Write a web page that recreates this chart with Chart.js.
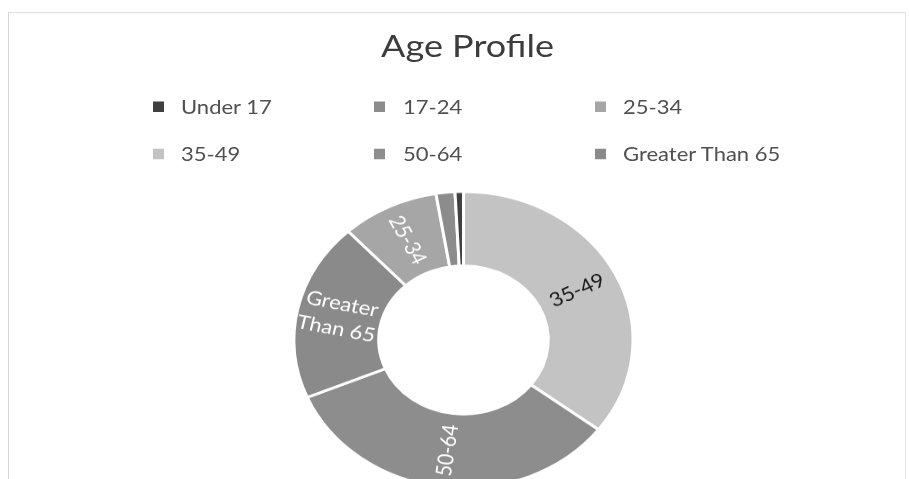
<!DOCTYPE html>
<html>
<head>
<meta charset="utf-8">
<script src="https://cdn.jsdelivr.net/npm/chart.js@4/dist/chart.umd.min.js"></script>
<style>
  html, body { margin: 0; padding: 0; background: #fff; }
  #frame { position: relative; width: 909px; height: 479px; overflow: hidden; background: #fff; }
  #squash { position: absolute; left: 0; top: 0; width: 909px; height: 560px;
            transform: scaleY(0.875); transform-origin: 0 0; }
  #border { position: absolute; left: 8px; top: 14px; width: 896px; height: 600px;
            border-top: 1px solid #d6d6d6; border-left: 1px solid #d6d6d6; border-right: 1px solid #e6e6e6; }
  #chart { position: absolute; left: 0; top: 0; }
  #title { position: absolute; left: 0; width: 935px; top: 33px; height: 36px; line-height: 36px;
           text-align: center; font-family: Lato, sans-serif; font-size: 36px; color: #3c3c3c; white-space: nowrap; }
  .lg-box { position: absolute; width: 11px; height: 12px; }
  .lg-text { position: absolute; font-family: Lato, sans-serif; font-size: 22px; color: #505050; white-space: nowrap;
             line-height: 26px; height: 26px; }
</style>
</head>
<body>
<div id="frame">
  <div id="squash">
    <div id="border"></div>
    <canvas id="chart" width="909" height="560"></canvas>
    <div id="title">Age Profile</div>
    <div id="legend"></div>
  </div>
</div>
<script>
// ---- data (slices listed clockwise from 12 o'clock, as drawn) ----
const categories = ['35-49', '50-64', 'Greater Than 65', '25-34', '17-24', 'Under 17'];
const values = [35.3, 33.3, 19.4, 9.3, 1.8, 0.8];
const sliceColors = ['#c3c3c3', '#8d8d8d', '#8a8a8a', '#a6a6a6', '#8c8c8c', '#404040'];
// text drawn inside the slices
const sliceLabelLines = [['35-49'], ['50-64'], ['Greater', 'Than 65'], ['25-34'], [], []];
const sliceLabelColors = ['#1a1a1a', '#ffffff', '#ffffff', '#ffffff', '#ffffff', '#ffffff'];
// legend order (as shown in the legend, 3 per row)
const legendOrder = ['Under 17', '17-24', '25-34', '35-49', '50-64', 'Greater Than 65'];

const sliceLabelPlugin = {
  id: 'sliceLabels',
  afterDatasetsDraw(chart) {
    const ctx = chart.ctx;
    const meta = chart.getDatasetMeta(0);
    meta.data.forEach((arc, i) => {
      const lines = sliceLabelLines[i];
      if (!lines || !lines.length) return;
      const p = arc.getProps(['x', 'y', 'startAngle', 'endAngle', 'innerRadius', 'outerRadius'], true);
      const mid = (p.startAngle + p.endAngle) / 2;
      const r = (p.innerRadius + p.outerRadius) / 2;
      const px = p.x + Math.cos(mid) * r;
      const py = p.y + Math.sin(mid) * r;
      let rot = mid;
      if (Math.cos(mid) < 0) rot += Math.PI;
      ctx.save();
      ctx.translate(px, py);
      ctx.rotate(rot);
      ctx.font = '22px Lato, sans-serif';
      ctx.fillStyle = sliceLabelColors[i];
      ctx.textAlign = 'center';
      ctx.textBaseline = 'middle';
      const lh = 29;
      lines.forEach((ln, k) => ctx.fillText(ln, 0, (k - (lines.length - 1) / 2) * lh));
      ctx.restore();
    });
  }
};

const chart = new Chart(document.getElementById('chart'), {
  type: 'doughnut',
  data: {
    labels: categories,
    datasets: [{
      data: values,
      backgroundColor: sliceColors,
      borderColor: '#ffffff',
      borderWidth: 3,
      hoverBorderWidth: 3,
      hoverOffset: 0,
      offset: 0
    }]
  },
  options: {
    responsive: false,
    animation: false,
    devicePixelRatio: 1,
    radius: 169.5,
    cutout: '50%',
    rotation: 0,
    layout: { padding: { top: 218, bottom: 1, left: 18, right: 0 } },
    plugins: {
      legend: { display: false },
      title: { display: false },
      tooltip: { enabled: false }
    },
    events: []
  },
  plugins: [sliceLabelPlugin]
});

// ---- legend built from the chart's own labels and colours ----
const legendEl = document.getElementById('legend');
const colBox = [153, 374, 595];
const colText = [181, 403, 623];
const rowCenter = [122, 176];
legendOrder.forEach((name, k) => {
  const idx = chart.data.labels.indexOf(name);
  const col = k % 3, row = Math.floor(k / 3);
  const box = document.createElement('div');
  box.className = 'lg-box';
  box.style.left = colBox[col] + 'px';
  box.style.top = (rowCenter[row] - 6) + 'px';
  box.style.background = chart.data.datasets[0].backgroundColor[idx];
  legendEl.appendChild(box);
  const t = document.createElement('div');
  t.className = 'lg-text';
  t.style.left = colText[col] + 'px';
  t.style.top = (rowCenter[row] - 13) + 'px';
  t.textContent = name;
  legendEl.appendChild(t);
});
</script>
</body>
</html>
